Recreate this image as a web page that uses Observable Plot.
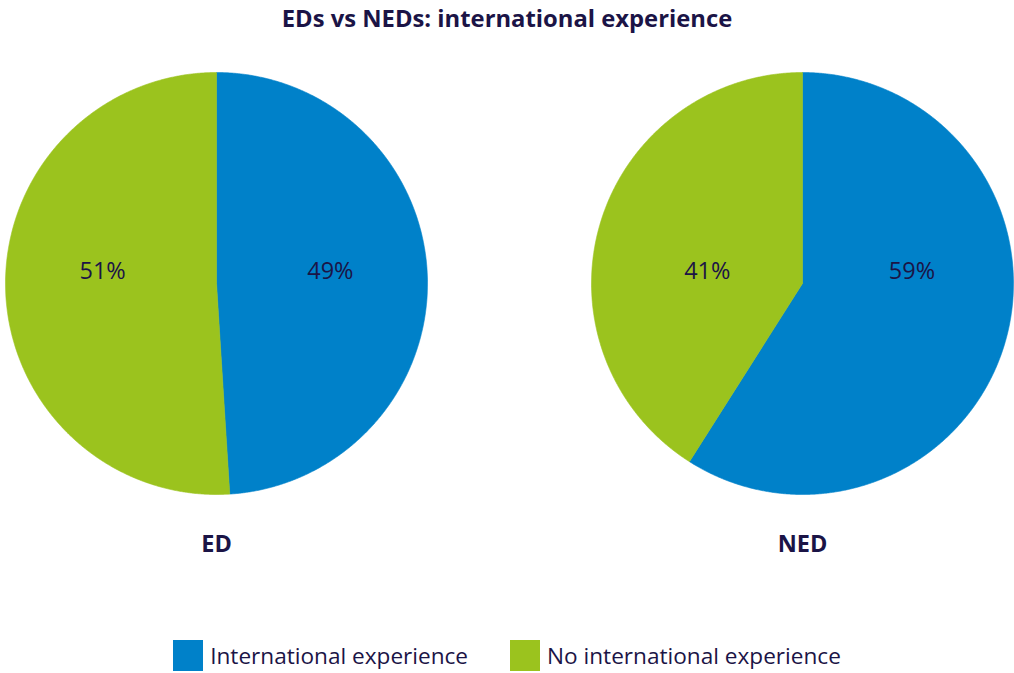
<!DOCTYPE html>
<html>
<head>
<meta charset="utf-8">
<script src="https://cdn.jsdelivr.net/npm/d3@7"></script>
<script src="https://cdn.jsdelivr.net/npm/@observablehq/plot@0.6"></script>
<style>
  body { margin: 0; background: #ffffff; font-family: "Open Sans", sans-serif; color: #1b1446; width: 1014px; }
  #title { height: 36px; line-height: 36px; text-align: center; font-weight: bold; font-size: 23.8px; }
  #legend { display: flex; justify-content: center; align-items: center; padding-top: 76px; font-size: 22.6px; }
  .item { display: flex; align-items: center; margin: 0 21px; }
  .sw { width: 30px; height: 31px; margin-right: 7px; }
</style>
</head>
<body>
<div id="title">EDs vs NEDs: international experience</div>
<div id="chart"></div>
<div id="legend"></div>
<script>
const groups = ["ED", "NED"];
const categories = ["International experience", "No international experience"];
const international = [49, 59];
const noInternational = [51, 41];
const colors = ["#0081c9", "#9bc31e"];
const textColor = "#1b1446";

// build wedge outlines (unit circle, angle 0 at 12 o'clock, clockwise)
const points = [];
const labels = [];
groups.forEach((g, gi) => {
  const vals = [international[gi], noInternational[gi]];
  const total = d3.sum(vals);
  let a0 = 0;
  vals.forEach((v, ci) => {
    const a1 = a0 + (v / total) * 2 * Math.PI;
    const key = g + "|" + ci;
    points.push({group: g, category: categories[ci], key, x: 0, y: 0});
    const n = Math.max(2, Math.ceil((a1 - a0) / 0.005));
    for (let i = 0; i <= n; i++) {
      const a = a0 + (a1 - a0) * i / n;
      points.push({group: g, category: categories[ci], key, x: Math.sin(a), y: Math.cos(a)});
    }
    points.push({group: g, category: categories[ci], key, x: 0, y: 0});
    const mid = (a0 + a1) / 2;
    labels.push({group: g, x: 0.54 * Math.sin(mid) * (v < 45 ? 0.87 : 1), y: 0.057, text: v + "%"});
    a0 = a1;
  });
});

const chart = Plot.plot({
  width: 1014,
  height: 528,
  marginTop: 36,
  marginBottom: 70,
  marginLeft: 5,
  marginRight: 1,
  style: {fontFamily: "'Open Sans', sans-serif", background: "#ffffff"},
  fx: {domain: groups, paddingInner: 0.2799, paddingOuter: 0, label: null},
  x: {domain: [-1, 1], axis: null},
  y: {domain: [-1, 1], axis: null},
  color: {domain: categories, range: colors},
  marks: [
    Plot.line(points, {fx: "group", x: "x", y: "y", z: "key", fill: "category", stroke: "category", strokeWidth: 0.6, curve: "linear"}),
    Plot.text(labels, {fx: "group", x: "x", y: "y", text: "text", fontSize: 23.5, fill: textColor}),
    Plot.axisFx({anchor: "bottom", tickSize: 0, tickPadding: 41, label: null, fontSize: 23.5, fontWeight: "bold", color: textColor})
  ]
});
document.getElementById("chart").appendChild(chart);

const legend = document.getElementById("legend");
categories.forEach((c, i) => {
  const item = document.createElement("div");
  item.className = "item";
  const sw = document.createElement("div");
  sw.className = "sw";
  sw.style.background = colors[i];
  const t = document.createElement("span");
  t.textContent = c;
  item.appendChild(sw);
  item.appendChild(t);
  legend.appendChild(item);
});
</script>
</body>
</html>
